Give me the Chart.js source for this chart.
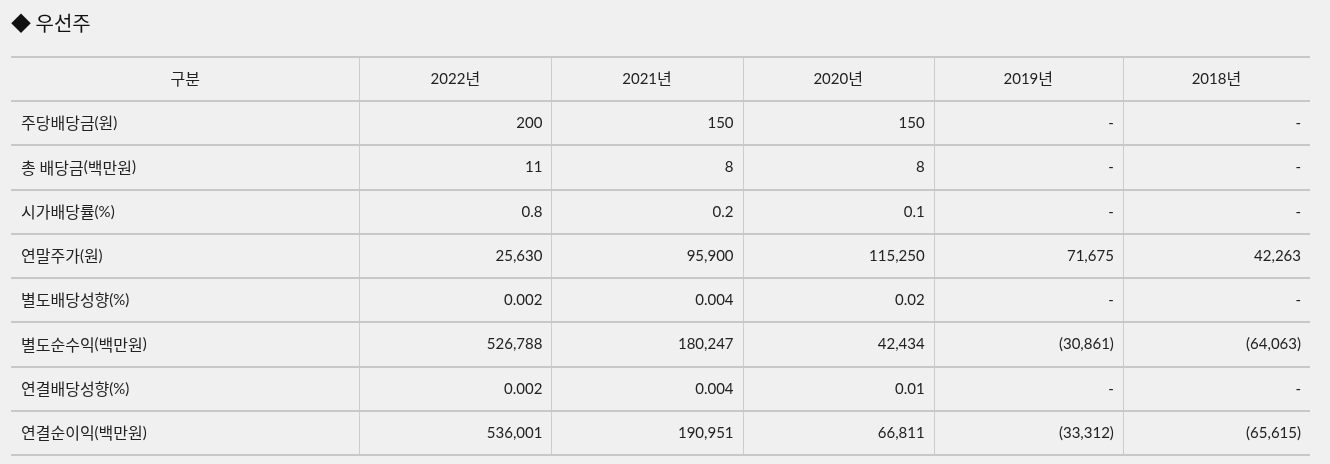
<!DOCTYPE html>
<html>
<head>
<meta charset="utf-8">
<script src="https://cdn.jsdelivr.net/npm/chart.js@4"></script>
<style>
  html, body { margin: 0; padding: 0; background: #f0f0f0; }
  #wrap { width: 1330px; height: 464px; }
</style>
</head>
<body>
<div id="wrap"><canvas id="tabla"></canvas></div>
<script>
// datos
const titulo = "◆ 우선주"
const cabecera = "구분"
const anios = ["2022년", "2021년", "2020년", "2019년", "2018년"]
const filas = ["주당배당금(원)", "총 배당금(백만원)", "시가배당률(%)", "연말주가(원)", "별도배당성향(%)", "별도순수익(백만원)", "연결배당성향(%)", "연결순이익(백만원)"]
const dividendoAccion = [200, 150, 150, null, null]
const dividendoTotal = [11, 8, 8, null, null]
const rendimiento = [0.8, 0.2, 0.1, null, null]
const precioFinAnio = [25630, 95900, 115250, 71675, 42263]
const payoutSeparado = [0.002, 0.004, 0.02, null, null]
const utilidadSeparada = [526788, 180247, 42434, -30861, -64063]
const payoutConsolidado = [0.002, 0.004, 0.01, null, null]
const utilidadConsolidada = [536001, 190951, 66811, -33312, -65615]

const valores = [dividendoAccion, dividendoTotal, rendimiento, precioFinAnio, payoutSeparado, utilidadSeparada, payoutConsolidado, utilidadConsolidada]

// anchos de columna (en px de la tabla)
const anchos = [348, 192, 191, 191, 189, 187]
const bordes = [0]
anchos.forEach(a => bordes.push(bordes[bordes.length - 1] + a))

const fuenteLatina = "15px Lato, sans-serif"
const fuenteCoreana = "16px 'Noto Sans CJK KR', sans-serif"

let formato = (v) => {
    if (v === null) return "-"
    let txt = Math.abs(v).toLocaleString("en-US", { maximumFractionDigits: 3 })
    return v < 0 ? "(" + txt + ")" : txt
}

// parte el texto en tramos coreanos y latinos
let tramos = (txt) => {
    const res = []
    for (const c of txt) {
        const coreano = /[\uac00-\ud7a3]/.test(c)
        const ult = res[res.length - 1]
        if (ult && ult.coreano === coreano) ult.txt += c
        else res.push({ txt: c, coreano: coreano })
    }
    return res
}

let escribir = (ctx, txt, px, py, alinear) => {
    const partes = tramos(txt)
    let total = 0
    partes.forEach(p => {
        ctx.font = p.coreano ? fuenteCoreana : fuenteLatina
        p.ancho = ctx.measureText(p.txt).width
        total += p.ancho
    })
    let x0 = px
    if (alinear === "center") x0 = px - total / 2
    if (alinear === "right") x0 = px - total
    ctx.textAlign = "left"
    partes.forEach(p => {
        ctx.font = p.coreano ? fuenteCoreana : fuenteLatina
        ctx.fillText(p.txt, x0, py)
        x0 += p.ancho
    })
}

const pluginTabla = {
    id: "tabla",
    afterDraw(chart) {
        const ctx = chart.ctx
        const x = chart.scales.x
        const y = chart.scales.y
        const izq = x.getPixelForValue(0)
        const der = x.getPixelForValue(bordes[bordes.length - 1])
        const nFilas = filas.length + 1
        ctx.save()

        // lineas verticales
        ctx.strokeStyle = "#cccccc"
        ctx.lineWidth = 1
        for (let i = 1; i < bordes.length - 1; i++) {
            const px = Math.round(x.getPixelForValue(bordes[i])) + 0.5
            ctx.beginPath()
            ctx.moveTo(px, y.getPixelForValue(0))
            ctx.lineTo(px, y.getPixelForValue(nFilas))
            ctx.stroke()
        }
        // lineas horizontales
        ctx.strokeStyle = "#c8c8c8"
        ctx.lineWidth = 2
        for (let r = 0; r <= nFilas; r++) {
            const py = Math.round(y.getPixelForValue(r))
            ctx.beginPath()
            ctx.moveTo(izq, py)
            ctx.lineTo(der, py)
            ctx.stroke()
        }

        // textos
        ctx.fillStyle = "#222222"
        ctx.textBaseline = "middle"
        const centroFila = r => y.getPixelForValue(r + 0.5)
        const centroCol = i => (x.getPixelForValue(bordes[i]) + x.getPixelForValue(bordes[i + 1])) / 2

        escribir(ctx, cabecera, centroCol(0), centroFila(0), "center")
        anios.forEach((a, i) => {
            escribir(ctx, a, centroCol(i + 1), centroFila(0), "center")
        })

        filas.forEach((f, r) => {
            escribir(ctx, f, x.getPixelForValue(bordes[0]) + 10, centroFila(r + 1), "left")
            valores[r].forEach((v, i) => {
                escribir(ctx, formato(v), x.getPixelForValue(bordes[i + 2]) - 9, centroFila(r + 1), "right")
            })
        })
        ctx.restore()
    }
}

const config = {
    type: "scatter",
    data: { datasets: [] },
    options: {
        responsive: true,
        maintainAspectRatio: false,
        animation: false,
        layout: { padding: { left: 11, right: 20, top: 0, bottom: 9 } },
        plugins: {
            legend: { display: false },
            tooltip: { enabled: false },
            title: {
                display: true,
                text: titulo,
                align: "start",
                color: "#111111",
                font: { family: "'Noto Sans CJK KR', sans-serif", size: 20, weight: "normal" },
                padding: { top: 11, bottom: 22 }
            }
        },
        scales: {
            x: { type: "linear", min: 0, max: bordes[bordes.length - 1], display: false },
            y: { type: "linear", min: 0, max: filas.length + 1, reverse: true, display: false }
        }
    },
    plugins: [pluginTabla]
}

const miTabla = new Chart(document.querySelector("#tabla"), config)
</script>
</body>
</html>
